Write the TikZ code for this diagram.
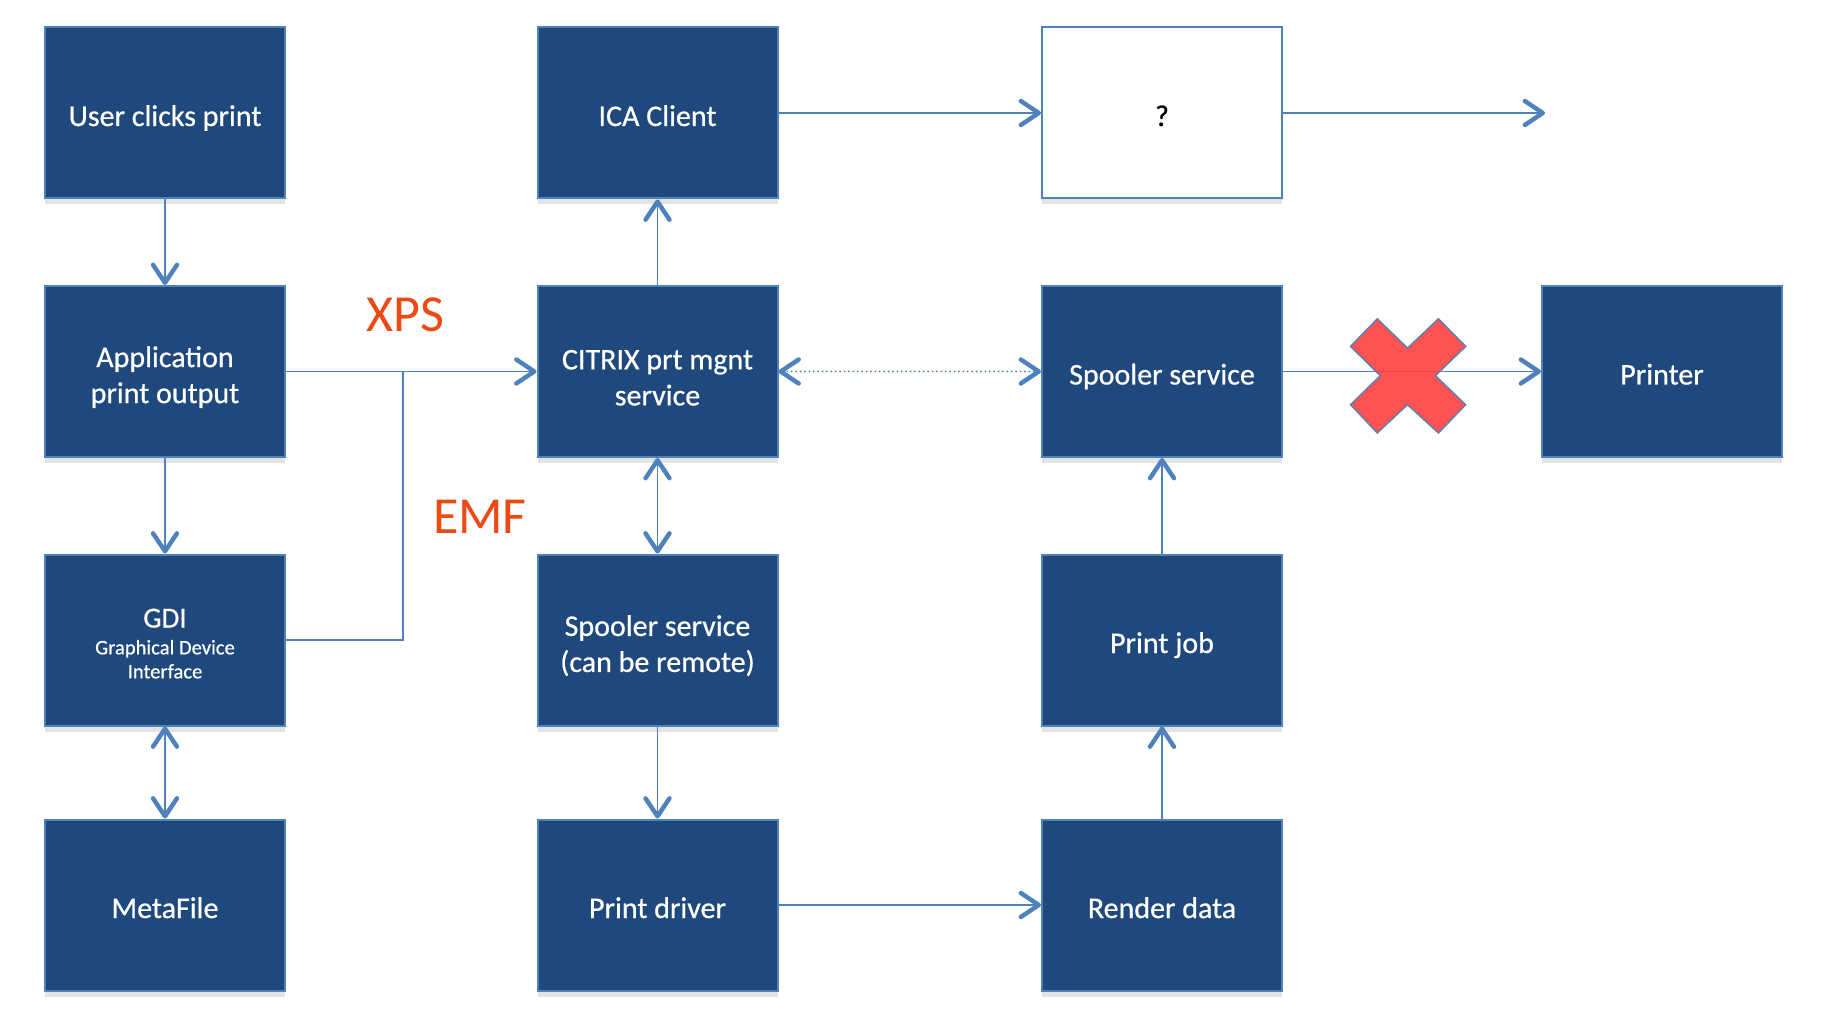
\documentclass[tikz,border=0pt]{standalone}
\usepackage{fontspec}
\setmainfont{Carlito}
\newfontfamily\boxfont{Carlito}[FakeBold=0.6]
\usetikzlibrary{arrows.meta,shadows}
\definecolor{boxfill}{HTML}{1F497D}
\definecolor{boxedge}{HTML}{4F81BD}
\definecolor{linec}{HTML}{4F81BD}
\definecolor{lblred}{HTML}{EC4A12}
\definecolor{xred}{HTML}{FF4141}
\definecolor{xedge}{HTML}{5B7DB8}
\newcommand{\topstrut}{\rule[-3pt]{0pt}{19pt}}
\tikzset{
  box/.style={rectangle, fill=boxfill, draw=boxedge, line width=1pt,
    minimum width=120pt, minimum height=85.5pt, text=white,
    font=\boxfont\fontsize{15}{18}\selectfont, align=center, inner sep=2pt,
    drop shadow={shadow xshift=0pt, shadow yshift=-3pt, opacity=0.22}},
  qbox/.style={box, fill=white, text=black},
  conn/.style={draw=linec, line width=0.8pt},
  tip/.style={-{Straight Barb[length=9pt,width=12pt,line width=2.2pt,round]}},
  tipboth/.style={{Straight Barb[length=9pt,width=12pt,line width=2.2pt,round]}-{Straight Barb[length=9pt,width=12pt,line width=2.2pt,round]}},
  dotline/.style={line width=1pt, line cap=round, dash pattern=on 0pt off 2.2pt},
  lbl/.style={text=lblred, font=\fontsize{26}{30}\selectfont, inner sep=0pt}
}
\begin{document}
\begin{tikzpicture}[x=0.5pt,y=-0.5pt]
\fill[white] (0,0) rectangle (1824,1026);
\useasboundingbox (0,0) rectangle (1824,1026);

% column 1
\node[box] (user) at (165,113) {\topstrut User clicks print};
\node[box] (app) at (165,371.5) {\topstrut Application\\print output};
\node[box, font=\boxfont\fontsize{10.3}{12}\selectfont] (gdi) at (165,640)
  {{\fontsize{14.5}{14.5}\selectfont\rule{0pt}{13pt}GDI}\\[1.4pt]Graphical Device\\Interface};
\node[box] (meta) at (165,905) {\topstrut MetaFile};
% column 2
\node[box] (ica) at (657.5,113) {\topstrut ICA Client};
\node[box] (citrix) at (657.5,371.5) {\topstrut CITRIX prt mgnt\\service};
\node[box] (spr) at (657.5,640) {\topstrut Spooler service\\(can be remote)};
\node[box] (drv) at (657.5,905) {\topstrut Print driver};
% column 3
\node[qbox] (q) at (1162,113) {\topstrut ?};
\node[box] (sps) at (1162,371.5) {\topstrut Spooler service};
\node[box] (job) at (1162,640) {\topstrut Print job};
\node[box] (render) at (1162,905) {\topstrut Render data};
% column 4
\node[box] (printer) at (1662,371.5) {\topstrut Printer};

\coordinate (qend) at (1545,113);
\coordinate (junc) at (403,371.5);

% labels
\node[lbl] (xps) at (405,315) {XPS};
\node[lbl] (emf) at (480,517) {EMF};

% connectors
\draw[conn,tip] (user) -- (app);
\draw[conn,tip] (app) -- (gdi);
\draw[conn,tipboth] (gdi) -- (meta);
\draw[conn,tip] (app) -- (citrix);
\draw[conn] (gdi.east) -| (junc);
\draw[conn,tip] (citrix) -- (ica);
\draw[conn,tipboth] (citrix) -- (spr);
\draw[conn,tip] (spr) -- (drv);
\draw[conn,tip] (ica) -- (q);
\draw[conn,tip] (q) -- (qend);
\draw[conn,dotline,tipboth] (citrix) -- (sps);
\draw[conn,tip] (sps) -- (printer);
\draw[conn,tip] (job) -- (sps);
\draw[conn,tip] (render) -- (job);
\draw[conn,tip] (drv) -- (render);

% red cross
\draw[draw=xedge, line width=0.7pt, fill=xred, fill opacity=0.9]
  (1377.3,318.8) -- (1350.5,346.4) -- (1380.2,375.7) -- (1350.5,404.7)
  -- (1377.3,433.0) -- (1407.5,404.7) -- (1438.4,433.0) -- (1465.7,404.7)
  -- (1435.4,375.7) -- (1465.7,346.4) -- (1438.4,318.8) -- (1407.5,348.1) -- cycle;
\end{tikzpicture}
\end{document}
